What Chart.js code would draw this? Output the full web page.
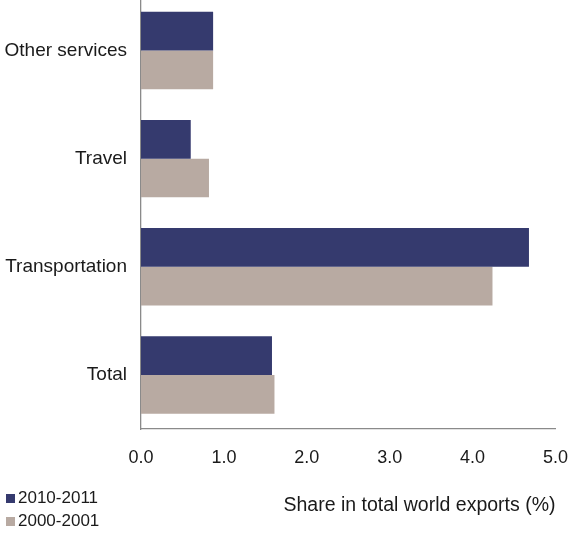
<!DOCTYPE html>
<html>
<head>
<meta charset="utf-8">
<script src="https://cdn.jsdelivr.net/npm/chart.js@4"></script>
<style>
  html, body { margin:0; padding:0; background:#fff; }
  body { width:572px; height:540px; position:relative; overflow:hidden; font-family:"Liberation Sans", Arial, sans-serif; }
  #wrap { position:absolute; left:0; top:-29px; width:586px; height:569px; }
  #legend { position:absolute; left:6px; top:486px; font-size:17px; color:#1a1a1a; }
  #legend div { height:23px; line-height:23px; white-space:nowrap; }
  #legend span { display:inline-block; width:9px; height:9px; margin-right:3px; vertical-align:0px; }
</style>
</head>
<body>
<div id="wrap"><canvas id="chart" width="586" height="569"></canvas></div>
<div id="legend"></div>
<script>
// categories top to bottom
const categories = ["Other services", "Travel", "Transportation", "Total"];
const seriesNames = ["2010-2011", "2000-2001"];
const values2010 = [0.87, 0.60, 4.68, 1.58];
const values2000 = [0.87, 0.82, 4.24, 1.61];
const xTicks = [0, 1, 2, 3, 4, 5];
const colors = ["#353a6e", "#b8aaa2"];

const font = "'Liberation Sans', Arial, sans-serif";

const chart = new Chart(document.getElementById("chart"), {
  type: "bar",
  data: {
    labels: categories,
    datasets: [
      { label: seriesNames[0], data: values2010, backgroundColor: colors[0] },
      { label: seriesNames[1], data: values2000, backgroundColor: colors[1] }
    ]
  },
  options: {
    indexAxis: "y",
    responsive: false,
    animation: false,
    categoryPercentage: 0.716,
    barPercentage: 1.0,
    layout: { padding: { left: 0, right: 2, top: 0, bottom: 23 } },
    plugins: { legend: { display: false }, tooltip: { enabled: false } },
    scales: {
      x: {
        min: xTicks[0], max: xTicks[xTicks.length - 1],
        afterBuildTicks: (s) => { s.ticks = xTicks.map(v => ({ value: v })); },
        grid: { display: false, drawTicks: false },
        border: { display: true, color: "#8a8a8a", width: 1.3 },
        ticks: { padding: 18, color: "#1a1a1a", font: { family: font, size: 18 },
          callback: (v) => Number(v).toFixed(1) },
        title: { display: true, text: "Share in total world exports (%)", align: "end",
          color: "#1a1a1a", font: { family: font, size: 19.5 }, padding: { top: 7, bottom: 0 } }
      },
      y: {
        grid: { display: false, drawTicks: false },
        border: { display: true, color: "#8a8a8a", width: 1.3 },
        ticks: { padding: 14, color: "#1a1a1a", font: { family: font, size: 19 } },
        afterFit: (s) => { s.width = 141; }
      }
    }
  }
});

// legend
const legend = document.getElementById("legend");
seriesNames.forEach((n, i) => {
  const d = document.createElement("div");
  d.innerHTML = `<span style="background:${colors[i]}"></span>${n}`;
  legend.appendChild(d);
});
</script>
</body>
</html>
